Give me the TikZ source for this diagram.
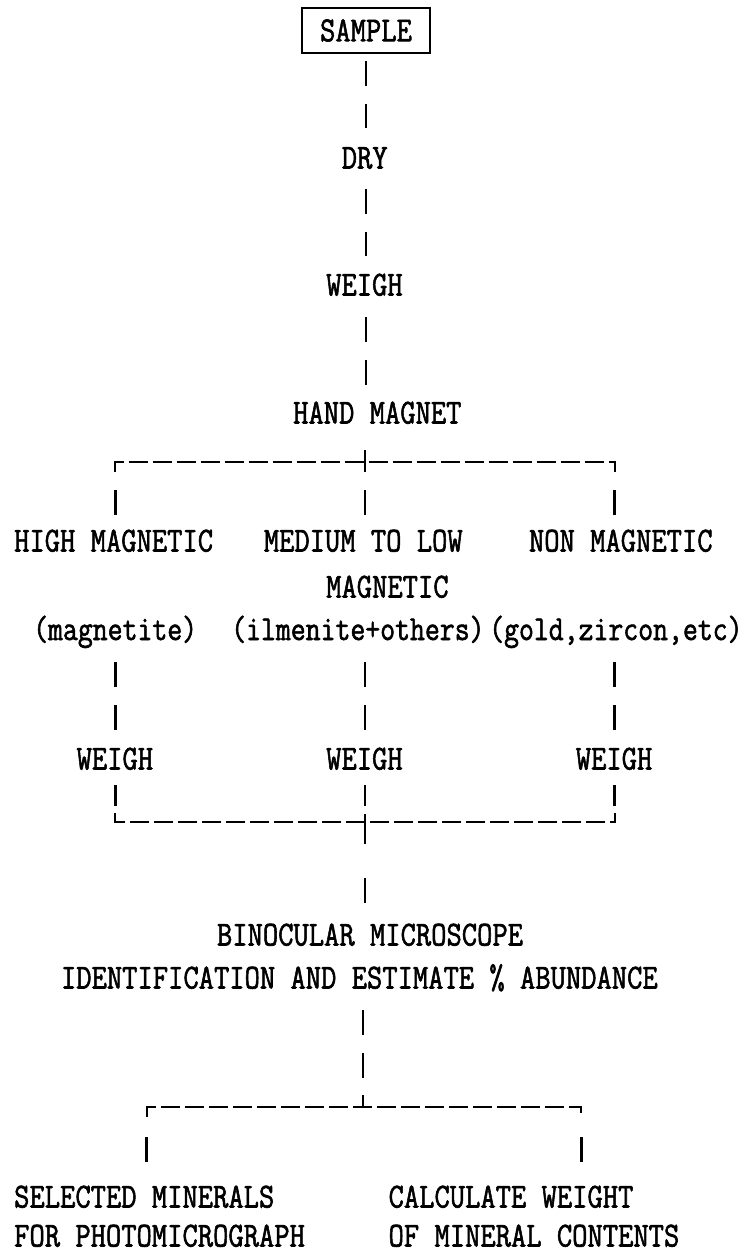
\documentclass[tikz,border=0pt]{standalone}
\usepackage{graphicx}
\usepackage{fontspec}
\setmonofont{Latin Modern Mono}[FakeBold=1.8]
\usetikzlibrary{calc}
\newcommand\Tx[1]{\scalebox{1}[1.18]{#1}}
\newcommand\Tl[1]{\scalebox{0.974}[1.18]{#1}}
\tikzset{
  txt/.style={inner sep=0pt, text height=21.5bp, text depth=0pt, anchor=base west,
    font=\ttfamily\fontsize{29.71bp}{30bp}\selectfont},
  lk/.style 2 args={draw, line width=2.4bp, dash pattern=on 25bp off 18bp, shorten <=#1bp, shorten >=#2bp},
  one/.style 2 args={draw, line width=2.4bp, shorten <=#1bp, shorten >=#2bp},
  brk/.style={draw, line width=2bp, dash pattern=on 19bp off 5bp},
  bar/.style={draw, line width=2.4bp}
}
\begin{document}
\begin{tikzpicture}[x=1bp,y=-1bp]
\useasboundingbox[fill=white] (0,0) rectangle (753,1253);
% nodes
\node[draw, line width=1.8bp, minimum width=128bp, minimum height=45bp, inner sep=0pt,
  font=\ttfamily\fontsize{29.71bp}{30bp}\selectfont] (sample) at (366,30.5) {\Tx{SAMPLE}};
\node[txt] (dry) at (341.6,168.5) {\Tx{DRY}};
\node[txt] (weigh) at (326,295.5) {\Tx{WEIGH}};
\node[txt] (hand) at (293,423.5) {\Tx{HAND MAGNET}};
\node[txt] (high) at (14,551.5) {\Tx{HIGH MAGNETIC}};
\node[txt] (medium) at (263.6,551.5) {\Tx{MEDIUM TO LOW}};
\node[txt] (non) at (528.8,551.5) {\Tx{NON MAGNETIC}};
\node[txt] (magnetic) at (326,597.5) {\Tx{MAGNETIC}};
\node[txt] (magnetite) at (33,640) {\Tl{(magnetite)}};
\node[txt] (ilmenite) at (231,640) {\Tl{(ilmenite+others)}};
\node[txt] (gold) at (489,640) {\Tl{(gold,zircon,etc)}};
\node[txt] (weighL) at (76.4,769.5) {\Tx{WEIGH}};
\node[txt] (weighM) at (326,769.5) {\Tx{WEIGH}};
\node[txt] (weighR) at (575.6,769.5) {\Tx{WEIGH}};
\node[txt] (bin) at (216.8,945.5) {\Tx{BINOCULAR MICROSCOPE}};
\node[txt] (ident) at (60.8,988.5) {\Tx{IDENTIFICATION AND ESTIMATE \% ABUNDANCE}};
\node[txt] (sel) at (14,1207.5) {\Tx{SELECTED MINERALS}};
\node[txt] (for) at (14,1246.5) {\Tx{FOR PHOTOMICROGRAPH}};
\node[txt] (calc) at (388.4,1207.5) {\Tx{CALCULATE WEIGHT}};
\node[txt] (of) at (388.4,1246.5) {\Tx{OF MINERAL CONTENTS}};
% bracket coordinates
\coordinate (tbl) at (115.4,462);
\coordinate (tbc) at (365,462);
\coordinate (tbr) at (614.6,462);
\coordinate (bbl) at (115.4,822);
\coordinate (bbc) at (365,822);
\coordinate (bbr) at (614.6,822);
\coordinate (lbl) at (146.6,1107);
\coordinate (lbc) at (363,1107);
\coordinate (lbr) at (581.4,1107);
% main chain
\path[lk={7}{19}] (sample.south) -- (sample.south |- dry.north);
\path[lk={20}{17.5}] (sample.south |- dry.south) -- (sample.south |- weigh.north);
\path[lk={21.5}{17}] (sample.south |- weigh.south) -- (sample.south |- hand.north);
% top bracket
\path[brk] ($(tbl)+(0,10)$) -- (tbl) -- (tbr) -- ($(tbr)+(0,10)$);
\path[bar] ($(tbc)+(0,-12)$) -- ($(tbc)+(0,10)$);
\path[one={28}{15}] (tbl) -- (tbl |- high.north);
\path[one={28}{15}] (tbc) -- (tbc |- medium.north);
\path[one={28}{15}] (tbr) -- (tbr |- non.north);
% down to weigh
\path[lk={22}{18}] (tbl |- magnetite.south) -- (tbl |- weighL.north);
\path[lk={22}{18}] (tbc |- ilmenite.south) -- (tbc |- weighM.north);
\path[lk={22}{18}] (tbr |- gold.south) -- (tbr |- weighR.north);
\path[one={15.5}{16}] (tbl |- weighL.south) -- (bbl);
\path[one={15.5}{16}] (tbc |- weighM.south) -- (bbc);
\path[one={15.5}{16}] (tbr |- weighR.south) -- (bbr);
% bottom bracket
\path[brk] ($(bbl)+(0,-9)$) -- (bbl) -- (bbr) -- ($(bbr)+(0,-9)$);
\path[bar] ($(bbc)+(0,-8)$) -- ($(bbc)+(0,22)$);
\path[one={56}{21}] (bbc) -- (bbc |- bin.north);
% identification to lower bracket
\path[lk={21.5}{29}] (lbc |- ident.south) -- (lbc);
\path[brk] ($(lbl)+(0,10)$) -- (lbl) -- (lbr) -- ($(lbr)+(0,10)$);
\path[bar] (lbc) -- ($(lbc)+(0,-12)$);
\path[one={30}{24}] (lbl) -- (lbl |- sel.north);
\path[one={30}{24}] (lbr) -- (lbr |- calc.north);
\end{tikzpicture}
\end{document}
